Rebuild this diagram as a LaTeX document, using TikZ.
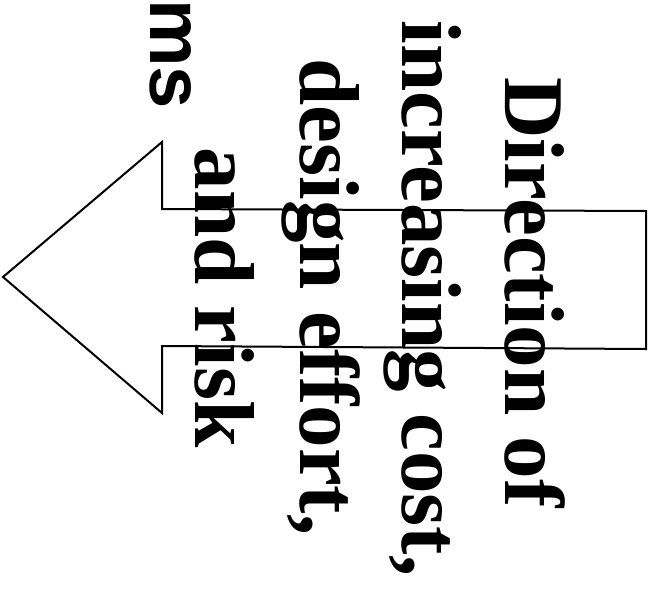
\documentclass[tikz,border=0pt]{standalone}
\usepackage{fontspec}
\setmainfont{Liberation Serif}
\newfontfamily\msfont{Liberation Sans}
\begin{document}
\begin{tikzpicture}[x=1pt,y=-1pt,
  lbl/.style={inner sep=0pt, anchor=base, rotate=-90, font=\fontsize{85}{104}\selectfont\bfseries},
  frag/.style={inner sep=0pt, anchor=base, rotate=-90, font=\msfont\fontsize{76}{90}\selectfont\bfseries},
  arrowshape/.style={draw=black, line width=2pt, line join=miter}]
\useasboundingbox (0,0) rectangle (654,595);
\draw[arrowshape] (3,277) -- (162,142) -- (162,209) -- (646,211) -- (646,349) -- (162,346) -- (162,413) -- cycle;
\node[lbl] (l1) at (505,292.5) {Direction of};
\node[lbl] (l2) at (402,298.5) {increasing cost,};
\node[lbl] (l3) at (300,297) {design effort,};
\node[lbl] (l4) at (195,297.5) {and risk};
\node[frag] (l5) at (150,54) {ms};
\end{tikzpicture}
\end{document}
